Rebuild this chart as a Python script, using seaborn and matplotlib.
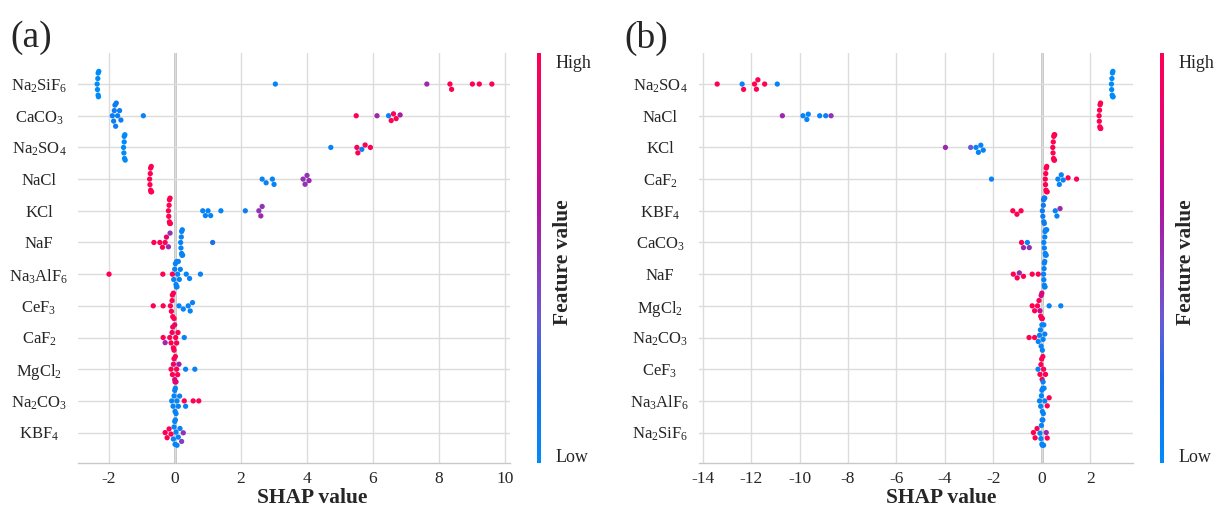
import matplotlib
matplotlib.use("Agg")
import matplotlib.pyplot as plt
from matplotlib.colors import LinearSegmentedColormap, Normalize
from matplotlib.cm import ScalarMappable
import pandas as pd
import seaborn as sns

# ---------------------------------------------------------------------------
# SHAP values and normalised feature values (0 = low, 1 = high), model (a)
# ---------------------------------------------------------------------------
a_features = ["Na2SiF6", "CaCO3", "Na2SO4", "NaCl", "KCl", "NaF",
              "Na3AlF6", "CeF3", "CaF2", "MgCl2", "Na2CO3", "KBF4"]

a_na2sif6 = [-2.36, -2.35, -2.34, -2.33, -2.33, -2.32, -2.31, 3.04, 7.63, 8.33, 8.38, 9.01, 9.22, 9.60]
a_na2sif6_fv = [0, 0, 0, 0, 0, 0, 0, 0.05, 0.55, 1, 1, 1, 1, 1]

a_caco3 = [-1.90, -1.86, -1.84, -1.82, -1.80, -1.78, -1.74, -1.68, -1.64, -0.96,
           5.49, 6.12, 6.47, 6.55, 6.62, 6.70, 6.82]
a_caco3_fv = [0.1, 0.1, 0.1, 0.1, 0.1, 0.1, 0.1, 0.1, 0.1, 0.05, 1, 0.55, 0.05, 1, 1, 1, 0.6]

a_na2so4 = [-1.56, -1.55, -1.54, -1.54, -1.53, -1.52, -1.51, 4.72, 5.51, 5.54, 5.66, 5.76, 5.92]
a_na2so4_fv = [0, 0, 0, 0, 0, 0, 0, 0.05, 1, 1, 0.05, 1, 1]

a_nacl = [-0.77, -0.76, -0.75, -0.74, -0.74, -0.73, -0.72, -0.71,
          2.64, 2.76, 2.95, 3.00, 3.88, 3.94, 4.00, 4.06]
a_nacl_fv = [1, 1, 1, 1, 1, 1, 1, 1, 0.05, 0.05, 0.05, 0.05, 0.5, 0.5, 0.5, 0.55]

a_kcl = [-0.20, -0.19, -0.18, -0.17, -0.17, -0.16, -0.15, -0.14,
         0.84, 0.92, 1.00, 1.08, 1.39, 2.13, 2.54, 2.60, 2.64]
a_kcl_fv = [1, 1, 1, 1, 1, 1, 1, 1, 0.05, 0.05, 0.05, 0.05, 0.05, 0.1, 0.5, 0.55, 0.5]

a_naf = [-0.64, -0.46, -0.38, -0.30, -0.26, -0.20, -0.15,
         0.17, 0.18, 0.19, 0.20, 0.20, 0.21, 0.22, 0.23, 1.14]
a_naf_fv = [1, 1, 1, 1, 0.9, 0.55, 0.5, 0.05, 0.05, 0.05, 0.05, 0.05, 0.05, 0.05, 0.05, 0.2]

a_na3alf6 = [-2.00, -0.37, -0.08, -0.04, -0.01, 0.01, 0.03, 0.04, 0.05, 0.06, 0.08, 0.10,
             0.13, 0.16, 0.34, 0.44, 0.77]
a_na3alf6_fv = [1, 1, 1, 0.05, 0.05, 0.05, 0.05, 0.05, 0.05, 0.05, 0.05, 0.05, 0.05, 0.05, 0.05, 0.05, 0.05]

a_cef3 = [-0.66, -0.36, -0.14, -0.11, -0.09, -0.08, -0.07, -0.05, -0.03, 0.12, 0.25, 0.40, 0.46, 0.53]
a_cef3_fv = [1, 1, 1, 1, 1, 1, 1, 1, 1, 0.05, 0.05, 0.05, 0.05, 0.05]

a_caf2 = [-0.36, -0.30, -0.16, -0.12, -0.09, -0.07, -0.05, -0.03, -0.01, 0.02, 0.05, 0.09, 0.28]
a_caf2_fv = [1, 0.55, 1, 1, 0.9, 1, 1, 1, 0.85, 1, 1, 1, 0.05]

a_mgcl2 = [-0.12, -0.08, -0.05, -0.03, -0.01, 0.00, 0.01, 0.03, 0.05, 0.08, 0.12, 0.32, 0.60]
a_mgcl2_fv = [1, 1, 0.85, 1, 0.75, 1, 1, 0.8, 1, 1, 0.6, 0.05, 0.05]

a_na2co3 = [-0.10, -0.06, -0.03, -0.01, 0.00, 0.01, 0.03, 0.06, 0.10, 0.14, 0.28, 0.32, 0.55, 0.72]
a_na2co3_fv = [0.05, 0.05, 0.05, 0.05, 0.05, 0.05, 0.05, 0.05, 0.05, 0.05, 1, 0.05, 1, 1]

a_kbf4 = [-0.30, -0.24, -0.18, -0.12, -0.05, -0.03, -0.01, 0.00, 0.01, 0.03, 0.06, 0.10, 0.15, 0.20, 0.25]
a_kbf4_fv = [1, 1, 1, 1, 0.05, 0.05, 0.05, 0.05, 0.05, 0.05, 0.05, 0.05, 0.05, 0.45, 0.5]

# ---------------------------------------------------------------------------
# model (b)
# ---------------------------------------------------------------------------
b_features = ["Na2SO4", "NaCl", "KCl", "CaF2", "KBF4", "CaCO3",
              "NaF", "MgCl2", "Na2CO3", "CeF3", "Na3AlF6", "Na2SiF6"]

b_na2so4 = [-13.40, -12.37, -12.31, -11.86, -11.78, -11.72, -11.44, -10.92,
            2.87, 2.88, 2.89, 2.90, 2.91, 2.92, 2.93, 2.94]
b_na2so4_fv = [1, 0.05, 1, 1, 1, 1, 1, 0.05, 0, 0, 0, 0, 0, 0, 0, 0]

b_nacl = [-10.71, -9.86, -9.70, -9.64, -9.17, -8.92, -8.70,
          2.36, 2.37, 2.38, 2.39, 2.40, 2.41, 2.42, 2.43]
b_nacl_fv = [0.55, 0.05, 0.05, 0.05, 0.05, 0.05, 0.5, 1, 1, 1, 1, 1, 1, 1, 1]

b_kcl = [-3.98, -2.94, -2.72, -2.62, -2.52, -2.42,
         0.45, 0.46, 0.47, 0.48, 0.49, 0.50, 0.51, 0.52, 0.53]
b_kcl_fv = [0.55, 0.35, 0.05, 0.05, 0.05, 0.05, 1, 1, 1, 1, 1, 1, 1, 1, 1]

b_caf2 = [-2.08, 0.14, 0.15, 0.16, 0.17, 0.18, 0.19, 0.20, 0.22, 0.66, 0.72, 0.80, 0.88, 1.08, 1.43]
b_caf2_fv = [0.05, 1, 1, 1, 1, 1, 1, 1, 1, 0.05, 0.05, 0.05, 0.05, 1, 1]

b_kbf4 = [-1.20, -1.03, -0.86, 0.02, 0.04, 0.06, 0.07, 0.08, 0.09, 0.10, 0.12, 0.55, 0.62, 0.75]
b_kbf4_fv = [1, 1, 1, 0.12, 0.12, 0.12, 0.12, 0.12, 0.12, 0.12, 0.12, 0.05, 0.05, 0.55]

b_caco3 = [-0.84, -0.76, -0.60, -0.52, 0.08, 0.10, 0.12, 0.13, 0.14, 0.15, 0.16, 0.18, 0.20]
b_caco3_fv = [1, 0.55, 0.05, 0.5, 0.05, 0.05, 0.05, 0.05, 0.05, 0.05, 0.05, 0.05, 0.05]

b_naf = [-1.18, -1.02, -0.93, -0.76, -0.40, -0.15, 0.07, 0.08, 0.09, 0.10, 0.10, 0.11, 0.12, 0.13]
b_naf_fv = [1, 1, 0.55, 1, 1, 1, 0.05, 0.05, 0.05, 0.05, 0.05, 0.05, 0.05, 0.05]

b_mgcl2 = [-0.40, -0.30, -0.18, -0.12, -0.08, -0.05, -0.03, -0.01, 0.00, 0.02, 0.30, 0.78]
b_mgcl2_fv = [1, 1, 1, 1, 0.7, 1, 0.75, 1, 0.8, 1, 0.05, 0.05]

b_na2co3 = [-0.53, -0.30, -0.15, -0.10, -0.06, -0.03, 0.00, 0.02, 0.05, 0.08, 0.12]
b_na2co3_fv = [1, 1, 0.05, 0.05, 0.05, 0.05, 0.05, 0.05, 0.05, 0.05, 0.05]

b_cef3 = [-0.16, -0.08, -0.04, -0.01, 0.01, 0.04, 0.05, 0.07, 0.15]
b_cef3_fv = [0.05, 1, 1, 1, 1, 1, 0.05, 1, 1]

b_na3alf6 = [-0.10, -0.05, -0.02, 0.00, 0.02, 0.04, 0.06, 0.09, 0.12, 0.22, 0.30]
b_na3alf6_fv = [0.05, 0.05, 0.05, 0.05, 0.05, 0.05, 0.05, 0.05, 0.05, 1, 1]

b_na2sif6 = [-0.35, -0.28, -0.20, -0.08, -0.04, -0.02, 0.00, 0.01, 0.02, 0.04, 0.07, 0.18, 0.22]
b_na2sif6_fv = [1, 1, 1, 0.05, 0.05, 0.05, 0.05, 0.05, 0.05, 0.05, 0.05, 0.55, 1]

a_x_ticks = [-2, 0, 2, 4, 6, 8, 10]
b_x_ticks = [-14, -12, -10, -8, -6, -4, -2, 0, 2]

# formula labels with subscripts
pretty = {
    "Na2SiF6": r"Na$_\mathregular{2}$SiF$_\mathregular{6}$",
    "CaCO3": r"CaCO$_\mathregular{3}$",
    "Na2SO4": r"Na$_\mathregular{2}$SO$_\mathregular{4}$",
    "NaCl": "NaCl",
    "KCl": "KCl",
    "NaF": "NaF",
    "Na3AlF6": r"Na$_\mathregular{3}$AlF$_\mathregular{6}$",
    "CeF3": r"CeF$_\mathregular{3}$",
    "CaF2": r"CaF$_\mathregular{2}$",
    "MgCl2": r"MgCl$_\mathregular{2}$",
    "Na2CO3": r"Na$_\mathregular{2}$CO$_\mathregular{3}$",
    "KBF4": r"KBF$_\mathregular{4}$",
}


def frame(features, shap_lists, fv_lists):
    rows = []
    for name, sv, fv in zip(features, shap_lists, fv_lists):
        for s, f in zip(sv, fv):
            rows.append({"feature": name, "shap": s, "fv": f})
    return pd.DataFrame(rows)


df_a = frame(a_features,
             [a_na2sif6, a_caco3, a_na2so4, a_nacl, a_kcl, a_naf, a_na3alf6,
              a_cef3, a_caf2, a_mgcl2, a_na2co3, a_kbf4],
             [a_na2sif6_fv, a_caco3_fv, a_na2so4_fv, a_nacl_fv, a_kcl_fv, a_naf_fv,
              a_na3alf6_fv, a_cef3_fv, a_caf2_fv, a_mgcl2_fv, a_na2co3_fv, a_kbf4_fv])
df_b = frame(b_features,
             [b_na2so4, b_nacl, b_kcl, b_caf2, b_kbf4, b_caco3, b_naf, b_mgcl2,
              b_na2co3, b_cef3, b_na3alf6, b_na2sif6],
             [b_na2so4_fv, b_nacl_fv, b_kcl_fv, b_caf2_fv, b_kbf4_fv, b_caco3_fv,
              b_naf_fv, b_mgcl2_fv, b_na2co3_fv, b_cef3_fv, b_na3alf6_fv, b_na2sif6_fv])

sns.set_theme(style="whitegrid")
plt.rcParams["font.family"] = ["Liberation Serif", "DejaVu Serif"]
plt.rcParams["mathtext.fontset"] = "custom"
plt.rcParams["mathtext.rm"] = "Liberation Serif"
plt.rcParams["mathtext.it"] = "Liberation Serif:italic"
plt.rcParams["mathtext.bf"] = "Liberation Serif:bold"

cmap = LinearSegmentedColormap.from_list(
    "shap_red_blue",
    [(0.0, "#008bfb"), (0.2, "#1a6fe8"), (0.35, "#6a5ad4"), (0.5, "#9033b5"),
     (0.65, "#b80f9c"), (0.8, "#e00576"), (1.0, "#ff0052")])
norm = Normalize(0, 1)

W, H = 1218, 508
fig = plt.figure(figsize=(W / 100, H / 100), dpi=100)


def fx(px):
    return px / W


def fy(py):
    return 1 - py / H


def draw_panel(df, order, left_px, right_px, xlim, xticks, cbar_px, tag, tag_px, xlabel_px):
    ax = fig.add_axes([fx(left_px), fy(463), fx(right_px - left_px), (463 - 53) / H])
    ax.axvline(0, color="#b4b4b4", lw=1.8, zorder=0)
    sns.swarmplot(data=df, x="shap", y="feature", hue="fv", order=order,
                  palette=cmap, hue_norm=(0, 1), legend=False, size=3.8,
                  linewidth=0, orient="h", ax=ax, zorder=3)
    n = len(order)
    ax.set_ylim(n - 0.04, -0.98)
    ax.set_xlim(*xlim)
    ax.set_xticks(xticks)
    ax.set_xticklabels([str(t) for t in xticks], fontsize=12.5)
    ax.set_yticks(range(n))
    ax.set_yticklabels([pretty[f] for f in order], fontsize=12, ha="center")
    ax.xaxis.grid(True, color="#dcdcdc", lw=1.0)
    ax.yaxis.grid(True, color="#dcdcdc", lw=1.0)
    ax.set_axisbelow(True)
    for side in ("top", "left", "right"):
        ax.spines[side].set_visible(False)
    ax.spines["bottom"].set_color("#c8c8c8")
    ax.spines["bottom"].set_linewidth(1.0)
    ax.tick_params(axis="y", length=0, pad=28)
    ax.tick_params(axis="x", length=3, color="#c8c8c8", pad=3)
    ax.set_xlabel("")
    ax.set_ylabel("")
    ax.set_facecolor("white")
    fig.text(fx(xlabel_px), fy(498), "SHAP value", fontsize=15.5, fontweight="bold",
             ha="center", va="center")

    cax = fig.add_axes([fx(cbar_px), fy(463), fx(4), (463 - 53) / H])
    cb = fig.colorbar(ScalarMappable(norm=norm, cmap=cmap), cax=cax)
    cb.outline.set_visible(False)
    cb.set_ticks([])
    fig.text(fx(cbar_px + 19), fy(63), "High", fontsize=13, va="center", ha="left")
    fig.text(fx(cbar_px + 19), fy(457), "Low", fontsize=13, va="center", ha="left")
    fig.text(fx(cbar_px + 26), fy(262), "Feature value", fontsize=15.5, fontweight="bold",
             rotation=90, va="center", ha="center")
    fig.text(fx(tag_px), fy(38), tag, fontsize=27, va="center", ha="left")


draw_panel(df_a, a_features, 78, 510, (-2.94, 10.15), a_x_ticks, 537, "(a)", 10, 312)
draw_panel(df_b, b_features, 699, 1133, (-14.15, 3.76), b_x_ticks, 1160, "(b)", 624, 941)

fig.savefig("out.png", dpi=100, facecolor="white")
